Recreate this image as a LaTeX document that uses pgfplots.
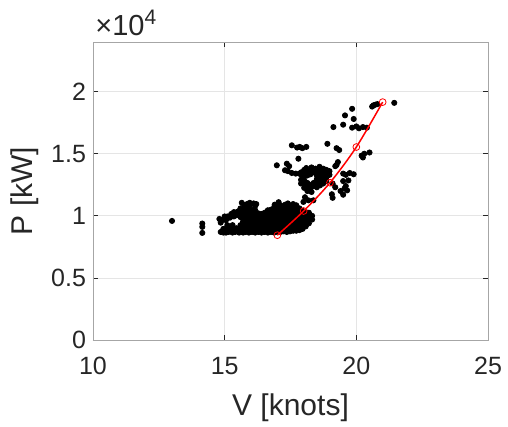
\documentclass[border=0pt]{standalone}
\usepackage{fontspec}
\setmainfont{Liberation Sans}
\usepackage{pgfplots}
\pgfplotsset{compat=1.18}
\definecolor{mlgray}{HTML}{262626}

\begin{document}
\begin{tikzpicture}
\useasboundingbox (-46.5pt,-43.5pt) rectangle (207.5pt,170pt);
\begin{axis}[
    width=197.5pt, height=149pt, scale only axis,
    xmin=10, xmax=25, ymin=0, ymax=24000,
    xtick={10,15,20,25},
    ytick={0,5000,10000,15000,20000},
    yticklabels={0,0.5,1,1.5,2},
    scaled y ticks=false,
    grid=major, grid style={black!10, line width=0.4pt},
    axis line style={black!35, line width=0.4pt},
    tick style={mlgray, line width=0.4pt}, tick align=inside, major tick length=2.5pt,
    /pgf/number format/assume math mode=true,
    ticklabel style={font=\fontsize{12.5}{14}\selectfont, text=mlgray},
    xticklabel style={yshift=-5pt},
    xlabel={V [knots]}, ylabel={P [kW]},
    label style={font=\fontsize{15}{17}\selectfont, text=mlgray},
    xlabel style={at={(axis description cs:0.5,-0.252)}, anchor=base},
    ylabel style={at={(axis description cs:-0.152,0.5)}, anchor=base},
    clip=false, clip mode=individual,
  ]
  % measured points
  \addplot[only marks, mark=*, mark size=1.3pt, color=black] coordinates {
    (13.0,9590) (14.15,9380) (14.15,9110) (14.15,8625)
    (14.85,8700) (14.85,9450) (14.8,9750)
    (14.95,8650) (14.95,8950) (14.95,9700) (15.0,9950)
    (15.05,8650) (15.05,8950) (15.1,9250) (15.05,9650) (15.1,9950)
    (15.15,8700) (15.2,9000) (15.2,9850) (15.25,10150)
    (15.3,8650) (15.3,8950) (15.3,9250) (15.35,9950) (15.35,10300)
    (15.4,8700) (15.45,9000) (15.45,10050) (15.5,10350)
    (15.55,8650) (15.55,8950) (15.6,9250) (15.6,9900) (15.6,10250) (15.6,10600)
    (15.7,8650) (15.7,8950) (15.7,9250) (15.7,9550) (15.7,9850) (15.7,10150) (15.7,10500) (15.75,10850)
    (15.8,8700) (15.8,9000) (15.8,9300) (15.8,9600) (15.8,9900) (15.8,10200) (15.85,10550) (15.85,10950)
    (15.92,8650) (15.92,8950) (15.92,9250) (15.92,9550) (15.92,9850) (15.92,10150) (15.92,10450) (15.92,10750)
    (16.04,8700) (16.04,9000) (16.04,9300) (16.04,9600) (16.04,9900) (16.04,10200) (16.04,10500) (16.0,10950)
    (16.16,8650) (16.16,8950) (16.16,9250) (16.16,9550) (16.16,9850) (16.16,10150) (16.16,10450) (16.16,10800)
    (16.28,8700) (16.28,9000) (16.28,9300) (16.28,9600) (16.28,9900) (16.28,10200)
    (16.40,8650) (16.40,8950) (16.40,9250) (16.40,9550) (16.40,9850) (16.40,10150)
    (16.52,8700) (16.52,9000) (16.52,9300) (16.52,9600) (16.52,9900) (16.52,10250)
    (16.64,8650) (16.64,8950) (16.64,9250) (16.64,9550) (16.64,9850) (16.64,10150) (16.64,10450)
    (16.76,8700) (16.76,9000) (16.76,9300) (16.76,9600) (16.76,9900) (16.76,10200) (16.76,10500)
    (16.88,8650) (16.88,8950) (16.88,9250) (16.88,9550) (16.88,9850) (16.88,10150) (16.88,10450) (16.88,10700)
    (17.00,8700) (17.00,9000) (17.00,9300) (17.00,9600) (17.00,9900) (17.00,10200) (17.00,10500) (17.02,10950)
    (17.12,8700) (17.12,9000) (17.12,9300) (17.12,9600) (17.12,9900) (17.12,10200) (17.12,10500) (17.12,10850)
    (17.24,8750) (17.24,9050) (17.24,9350) (17.24,9650) (17.24,9950) (17.24,10250) (17.24,10550) (17.3,10900)
    (17.36,8700) (17.36,9000) (17.36,9300) (17.36,9600) (17.36,9900) (17.36,10200) (17.36,10500) (17.36,10750)
    (17.48,8750) (17.48,9050) (17.48,9350) (17.48,9650) (17.48,9950) (17.48,10250) (17.48,10550) (17.48,10850)
    (17.60,8800) (17.60,9100) (17.60,9400) (17.60,9700) (17.60,10000) (17.60,10300) (17.60,10600) (17.6,10950)
    (17.72,8800) (17.72,9100) (17.72,9400) (17.72,9700) (17.72,10000) (17.72,10300) (17.72,10600) (17.72,10850)
    (17.84,8850) (17.84,9150) (17.84,9450) (17.84,9750) (17.84,10050) (17.84,10350) (17.84,10600)
    (17.96,8950) (17.96,9250) (17.96,9550) (17.96,9850) (17.96,10150) (17.96,10400)
    (18.08,9150) (18.08,9450) (18.08,9750) (18.08,10050) (18.08,10300)
    (18.20,9400) (18.20,9700) (18.20,10000) (18.20,10250)
    (18.32,9700) (18.32,10000)
    (15.65,11050) (15.95,11050) (16.1,11000) (16.2,10950) (16.9,10900) (17.05,11100) (17.4,11000)
    (17.99,11120) (18.18,11250) (18.37,11250) (18.3,11920) (18.24,12000) (18.05,11500)
    (17.9,12600) (17.9,12900) (17.9,13300) (17.9,13500)
    (18.02,12250) (18.02,12550) (18.02,12850) (18.02,13150) (18.02,13450) (18.02,13700)
    (18.14,12000) (18.14,12350) (18.14,12650) (18.14,13250) (18.14,13550)
    (18.26,12200) (18.26,12500) (18.26,13350) (18.26,13650)
    (18.38,12400) (18.38,12650) (18.38,13500)
    (18.5,12300) (18.5,12600) (18.5,12950) (18.5,13250) (18.5,13550)
    (18.62,12450) (18.62,12750) (18.62,13050) (18.62,13350) (18.62,13700)
    (18.74,12600) (18.74,12900) (18.74,13200) (18.74,13500) (18.74,13800)
    (18.86,12800) (18.86,13100) (18.86,13400) (18.86,13700)
    (18.98,13300) (18.98,13600)
    (18.1,13850) (18.45,13800) (18.6,13950) (18.3,13900)
    (17.85,13400) (17.7,13400) (17.55,13450) (17.4,13600) (17.29,13670) (17.45,14000) (17.36,14200) (16.98,14070)
    (19.07,11740) (19.1,12600) (19.2,12300) (19.1,11450) (19.25,14100) (19.3,14330) (19.2,14000)
    (19.5,13400) (19.6,13300) (19.75,13450) (19.9,13350) (19.5,12800) (19.55,12200) (19.65,12050) (19.6,12400) (19.7,12850)
    (19.4,12000) (19.5,11700)
    (20.2,14850) (20.3,15000) (20.5,15100) (20.25,14700)
    (17.55,15680) (17.75,15500) (17.85,15550) (17.95,15450) (18.1,15550) (17.8,14600) (18.9,15800) (19.25,15450) (19.35,15300)
    (19.13,17150) (19.5,17340) (19.57,18090) (19.84,18620) (19.9,17800) (19.84,17100) (20.0,17200) (20.1,17050) (20.25,17150) (20.4,17100)
    (20.65,18900) (20.72,18950) (20.8,19000) (20.6,18800) (21.44,19100)
  };
  % fitted curve
  \addplot[smooth, color=red, line width=0.75pt, mark=o, mark size=1.7pt,
           mark options={line width=0.4pt}] coordinates {
    (17,8440) (18,10390) (19,12670) (20,15540) (21,19160)
  };
  \node[anchor=base west, font=\fontsize{14.5}{16}\selectfont, text=mlgray, inner sep=0pt]
    at ([xshift=1pt, yshift=3.5pt]rel axis cs:0,1) {×10\textsuperscript{\fontsize{10.5}{12}\selectfont 4}};
\end{axis}
\end{tikzpicture}
\end{document}
